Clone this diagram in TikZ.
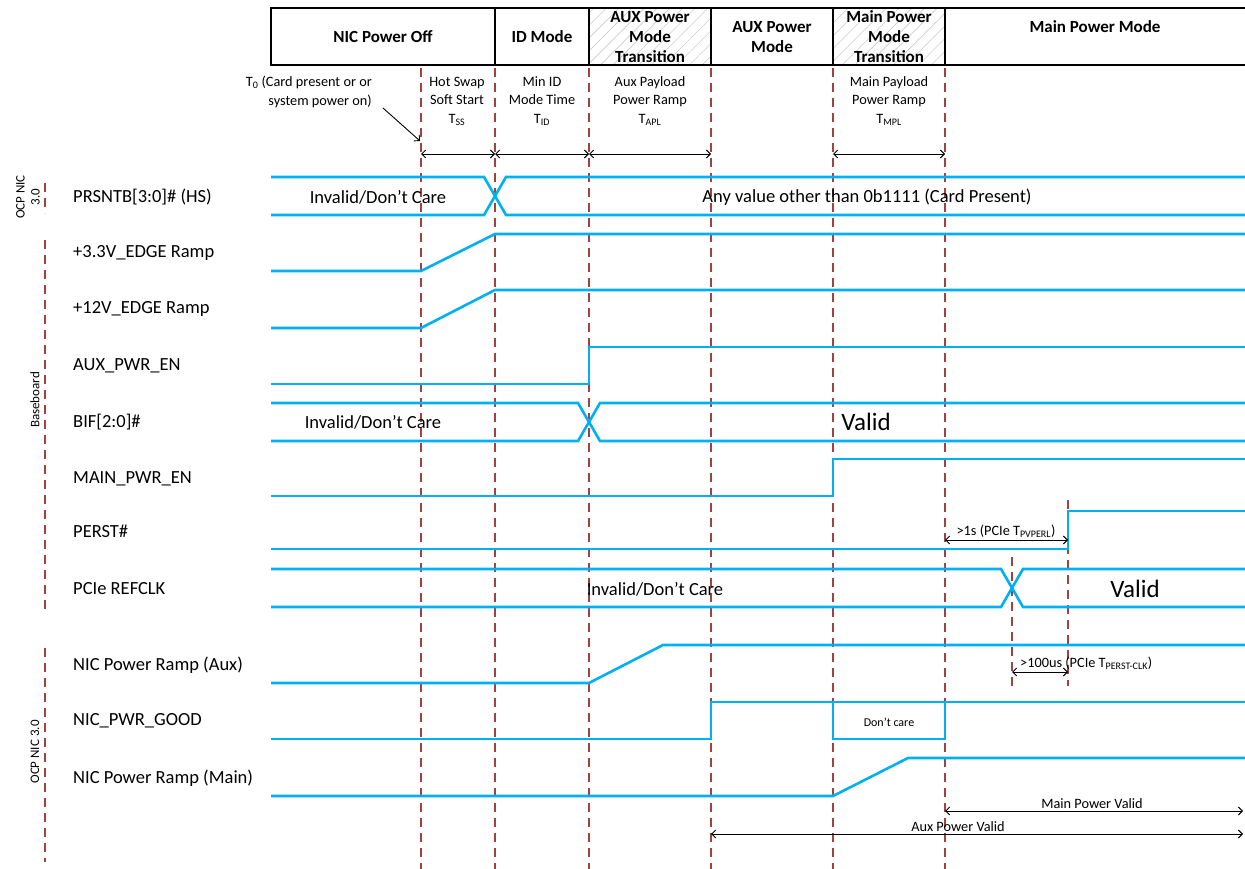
\documentclass[tikz,border=0pt]{standalone}
\usepackage{fontspec}
\setmainfont{Carlito}
\usetikzlibrary{arrows.meta,patterns.meta}
\definecolor{sigblue}{HTML}{00B0F0}
\definecolor{guidered}{HTML}{A0433E}
\begin{document}
\begin{tikzpicture}[x=1pt,y=-1pt,
  sig/.style={draw=sigblue,line width=2.6pt,line join=miter},
  guide/.style={draw=guidered,line width=1.3pt,dash pattern=on 9pt off 6pt},
  dim/.style={line width=0.9pt,{Straight Barb[length=4pt,width=8pt]}-{Straight Barb[length=4pt,width=8pt]}},
  hdr/.style={font=\fontsize{17}{20}\selectfont\bfseries,align=center,inner sep=0pt},
  ann/.style={font=\fontsize{14.3}{18.5}\selectfont,align=center,inner sep=0pt},
  lbl/.style={font=\fontsize{18.5}{20}\selectfont,anchor=west,inner sep=0pt},
  bus/.style={font=\fontsize{18.5}{20}\selectfont,inner sep=0pt},
  big/.style={font=\fontsize{25}{28}\selectfont,inner sep=0pt},
  grp/.style={font=\fontsize{13}{15}\selectfont,rotate=90,align=center,inner sep=0pt}]
\useasboundingbox (0,0) rectangle (1245,869);
% header
\fill[pattern={Lines[angle=45,distance=9pt,line width=0.6pt]},pattern color=gray!40] (589,8) rectangle (711,65);
\fill[pattern={Lines[angle=45,distance=9pt,line width=0.6pt]},pattern color=gray!40] (833,8) rectangle (945,65);
\draw[line width=1.4pt] (1245,8) -- (271,8) -- (271,65) -- (1245,65);
\foreach \x in {495,589,711,833,945} \draw[line width=1.4pt] (\x,8) -- (\x,65);
\node[hdr] (h1) at (383,37) {NIC Power Off};
\node[hdr] (h2) at (542,37) {ID Mode};
\node[hdr] (h3) at (650,37) {AUX Power\\Mode\\Transition};
\node[hdr] (h4) at (772,37) {AUX Power\\Mode};
\node[hdr] (h5) at (889,37) {Main Power\\Mode\\Transition};
\node[hdr] (h6) at (1095,27) {Main Power Mode};
% guides
\foreach \x in {421,495,589,711,833,945} \draw[guide] (\x,68) -- (\x,869);
\draw[guide] (1012,557) -- (1012,686);
\draw[guide] (1068,500) -- (1068,686);
% annotations
\node[ann,anchor=east,align=right] (t0) at (372,92) {T\textsubscript{0} (Card present or or\\system power on)};
\coordinate (t0s) at (383,108);
\coordinate (t0e) at (420,141);
\draw[line width=0.9pt,-{Straight Barb[length=4pt,width=8pt]}] (t0s) -- (t0e);
\node[ann] (a1) at (457,101) {Hot Swap\\Soft Start\\T\textsubscript{SS}};
\node[ann] (a2) at (542,101) {Min ID\\Mode Time\\T\textsubscript{ID}};
\node[ann] (a3) at (650,101) {Aux Payload\\Power Ramp\\T\textsubscript{APL}};
\node[ann] (a4) at (889,101) {Main Payload\\Power Ramp\\T\textsubscript{MPL}};
\coordinate (d1) at (421,154); \coordinate (d2) at (495,154);
\coordinate (d3) at (589,154); \coordinate (d4) at (711,154);
\coordinate (d5) at (833,154); \coordinate (d6) at (945,154);
\draw[dim] (d1) -- (d2);
\draw[dim] (d2) -- (d3);
\draw[dim] (d3) -- (d4);
\draw[dim] (d5) -- (d6);
% group labels
\draw[guide] (45,183) -- (45,213);
\draw[guide] (45,240) -- (45,612);
\draw[guide] (45,648) -- (45,862);
\node[grp] (g1) at (28,197) {OCP NIC\\3.0};
\node[grp] (g2) at (35,400) {Baseboard};
\node[grp] (g3) at (35,752) {OCP NIC 3.0};
% signal labels
\node[lbl] (l1) at (73,197) {PRSNTB[3:0]\# (HS)};
\node[lbl] (l2) at (73,253) {+3.3V\_EDGE Ramp};
\node[lbl] (l3) at (73,309) {+12V\_EDGE Ramp};
\node[lbl] (l4) at (73,366) {AUX\_PWR\_EN};
\node[lbl] (l5) at (73,422) {BIF[2:0]\#};
\node[lbl] (l6) at (73,479) {MAIN\_PWR\_EN};
\node[lbl] (l7) at (73,531) {PERST\#};
\node[lbl] (l8) at (73,589) {PCIe REFCLK};
\node[lbl] (l9) at (73,665) {NIC Power Ramp (Aux)};
\node[lbl] (l10) at (73,721) {NIC\_PWR\_GOOD};
\node[lbl] (l11) at (73,778) {NIC Power Ramp (Main)};
% signals
\draw[sig] (271,177) -- (484,177) -- (506,215) -- (1245,215);
\draw[sig] (271,215) -- (484,215) -- (506,177) -- (1245,177);
\node[bus] (v1) at (378,197) {Invalid/Don’t Care};
\node[bus] (v2) at (867,197) {Any value other than 0b1111 (Card Present)};
\draw[sig] (271,271) -- (421,271) -- (495,234) -- (1245,234);
\draw[sig] (271,328) -- (421,328) -- (495,290) -- (1245,290);
\draw[sig] (271,384) -- (589,384) -- (589,347) -- (1245,347);
\draw[sig] (271,403) -- (578,403) -- (600,441) -- (1245,441);
\draw[sig] (271,441) -- (578,441) -- (600,403) -- (1245,403);
\node[bus] (v3) at (373,422) {Invalid/Don’t Care};
\node[big] (v4) at (866,422) {Valid};
\draw[sig] (271,496) -- (833,496) -- (833,459) -- (1245,459);
\draw[sig] (271,549) -- (1068,549) -- (1068,511) -- (1245,511);
\draw[sig] (271,569) -- (1001,569) -- (1023,607) -- (1245,607);
\draw[sig] (271,607) -- (1001,607) -- (1023,569) -- (1245,569);
\node[bus] (v5) at (655,589) {Invalid/Don’t Care};
\node[big] (v6) at (1135,589) {Valid};
\draw[sig] (271,683) -- (589,683) -- (663,645) -- (1245,645);
\draw[sig] (271,739) -- (711,739) -- (711,702) -- (1245,702);
\draw[sig] (833,702) -- (833,739) -- (945,739) -- (945,702);
\node[ann,font=\fontsize{12}{14}\selectfont] (v7) at (889,722) {Don’t care};
\draw[sig] (271,796) -- (833,796) -- (908,758) -- (1245,758);
% timing arrows
\coordinate (p1) at (945,540); \coordinate (p2) at (1068,540);
\draw[dim] (p1) -- (p2);
\node[ann,anchor=south] (pt) at (1006,538) {>1s (PCIe T\textsubscript{PVPERL})};
\coordinate (c1) at (1012,672); \coordinate (c2) at (1068,672);
\draw[dim] (c1) -- (c2);
\node[ann,anchor=south west] (ct) at (1020,670) {>100us (PCIe T\textsubscript{PERST-CLK})};
\coordinate (m1) at (945,811); \coordinate (m2) at (1243,811);
\draw[dim] (m1) -- (m2);
\node[ann,anchor=south] (mt) at (1092,809) {Main Power Valid};
\coordinate (x1) at (711,834); \coordinate (x2) at (1243,834);
\draw[dim] (x1) -- (x2);
\node[ann,anchor=south] (xt) at (958,832) {Aux Power Valid};
\end{tikzpicture}
\end{document}
